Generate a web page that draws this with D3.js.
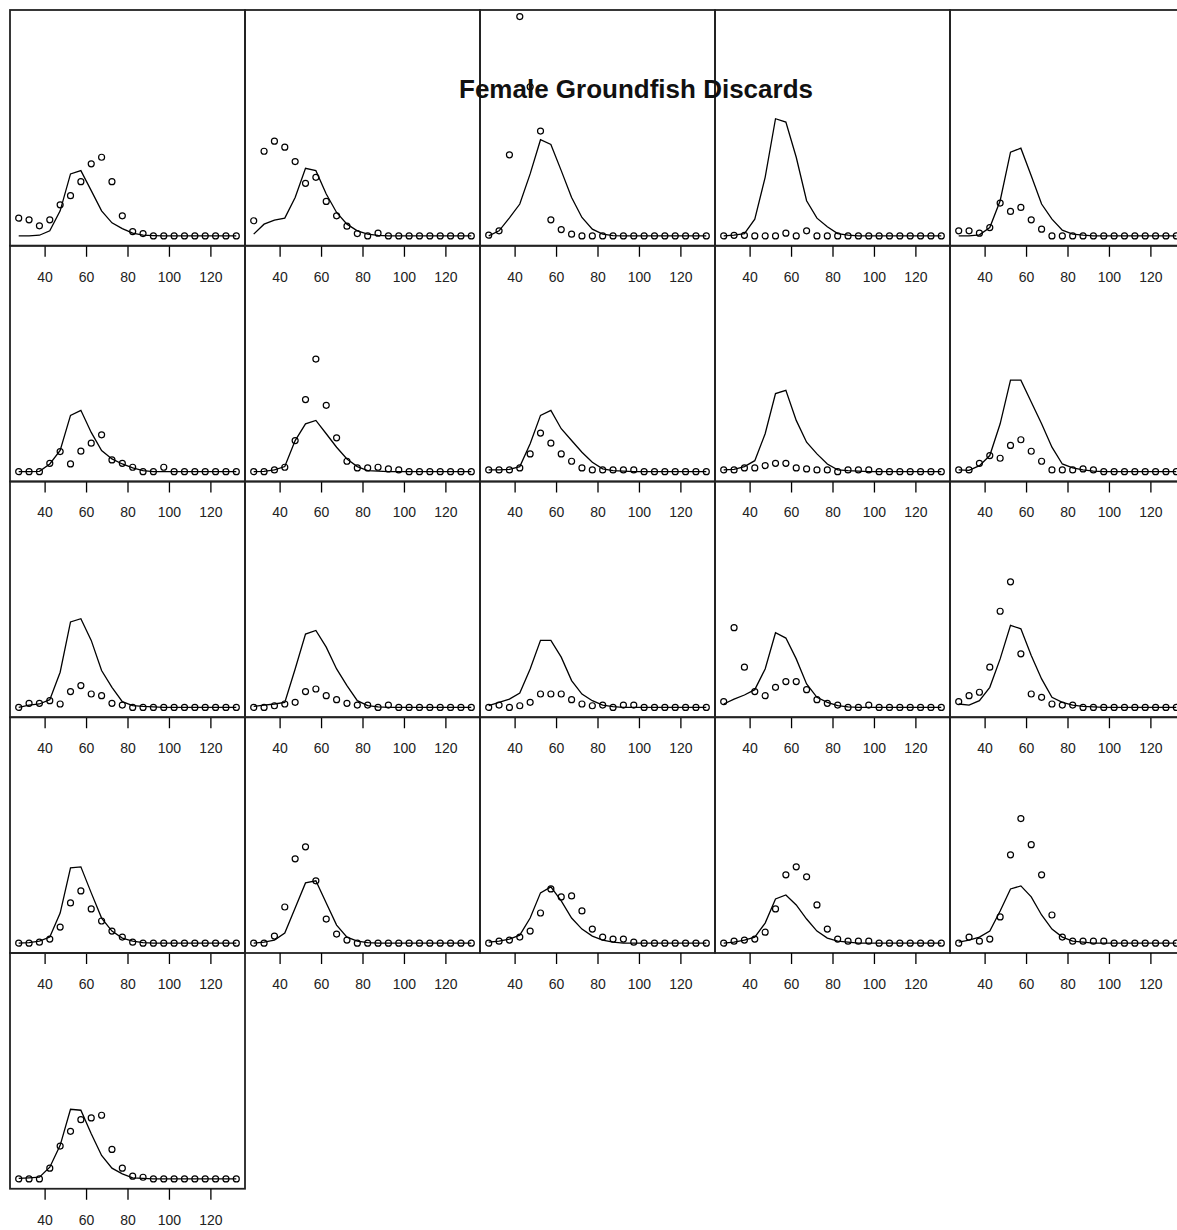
<!DOCTYPE html>
<html>
<head>
<meta charset="utf-8">
<script src="https://cdn.jsdelivr.net/npm/d3@7"></script>
<style>
  body { margin: 0; background: #fff; }
  svg { display: block; font-family: "Liberation Sans", Arial, sans-serif; }
</style>
</head>
<body>
<svg id="chart"></svg>
<script>
// chart data
const title = 'Female Groundfish Discards'

// length classes (x)
const lengths = [27.5, 32.5, 37.5, 42.5, 47.5, 52.5, 57.5, 62.5, 67.5, 72.5, 77.5,
                 82.5, 87.5, 92.5, 97.5, 102.5, 107.5, 112.5, 117.5, 122.5, 127.5, 132.5]

const xTicks = [40, 60, 80, 100, 120]

// observed proportions at length (circles), one array per panel
const observed = [
    [1.62, 1.47, 0.92, 1.47, 2.84, 3.67, 4.95, 6.58, 7.18, 4.95, 1.83, 0.39, 0.21, 0, 0, 0, 0, 0, 0, 0, 0, 0],
    [1.38, 7.73, 8.65, 8.10, 6.79, 4.80, 5.35, 3.15, 1.83, 0.89, 0.21, 0, 0.25, 0, 0, 0, 0, 0, 0, 0, 0, 0],
    [0.06, 0.46, 7.40, 20.03, 13.61, 9.57, 1.47, 0.58, 0.16, 0, 0, 0, 0, 0, 0, 0, 0, 0, 0, 0, 0, 0],
    [0, 0.05, 0.05, 0, 0, 0, 0.25, 0, 0.46, 0, 0, 0, 0, 0, 0, 0, 0, 0, 0, 0, 0, 0],
    [0.46, 0.46, 0.25, 0.76, 3.00, 2.23, 2.60, 1.47, 0.61, 0, 0, 0, 0, 0, 0, 0, 0, 0, 0, 0, 0, 0],
    [0, 0, 0, 0.76, 1.83, 0.70, 1.87, 2.60, 3.36, 1.07, 0.76, 0.40, 0, 0, 0.40, 0, 0, 0, 0, 0, 0, 0],
    [0, 0, 0.16, 0.40, 2.84, 6.58, 10.28, 6.06, 3.09, 0.95, 0.34, 0.34, 0.40, 0.25, 0.16, 0, 0, 0, 0, 0, 0, 0],
    [0.16, 0.16, 0.16, 0.34, 1.62, 3.52, 2.60, 1.62, 0.95, 0.34, 0.16, 0.16, 0.16, 0.16, 0.16, 0, 0, 0, 0, 0, 0, 0],
    [0.16, 0.16, 0.34, 0.34, 0.55, 0.76, 0.76, 0.34, 0.25, 0.16, 0.16, 0, 0.16, 0.16, 0.16, 0, 0, 0, 0, 0, 0, 0],
    [0.16, 0.16, 0.76, 1.47, 1.22, 2.39, 2.91, 1.86, 0.95, 0.16, 0.16, 0.16, 0.25, 0.16, 0, 0, 0, 0, 0, 0, 0, 0],
    [0, 0.37, 0.37, 0.61, 0.31, 1.44, 1.99, 1.22, 1.07, 0.37, 0.21, 0, 0, 0, 0, 0, 0, 0, 0, 0, 0, 0],
    [0, 0, 0.15, 0.31, 0.46, 1.44, 1.68, 1.07, 0.70, 0.37, 0.21, 0.21, 0, 0.21, 0, 0, 0, 0, 0, 0, 0, 0],
    [0, 0.21, 0, 0.15, 0.46, 1.22, 1.22, 1.22, 0.70, 0.31, 0.15, 0.21, 0, 0.21, 0.21, 0, 0, 0, 0, 0, 0, 0],
    [0.52, 7.28, 3.67, 1.44, 1.07, 1.83, 2.36, 2.36, 1.62, 0.70, 0.37, 0.21, 0, 0, 0.21, 0, 0, 0, 0, 0, 0, 0],
    [0.52, 1.07, 1.38, 3.67, 8.78, 11.47, 4.89, 1.22, 0.92, 0.31, 0.21, 0.21, 0, 0, 0, 0, 0, 0, 0, 0, 0, 0],
    [0, 0, 0.09, 0.37, 1.47, 3.67, 4.77, 3.12, 2.02, 1.10, 0.55, 0.09, 0, 0, 0, 0, 0, 0, 0, 0, 0, 0],
    [0, 0, 0.64, 3.30, 7.70, 8.80, 5.69, 2.20, 0.83, 0.28, 0, 0, 0, 0, 0, 0, 0, 0, 0, 0, 0, 0],
    [0, 0.18, 0.28, 0.55, 1.10, 2.75, 4.95, 4.22, 4.31, 2.94, 1.28, 0.55, 0.37, 0.37, 0.09, 0, 0, 0, 0, 0, 0, 0],
    [0, 0.18, 0.28, 0.37, 1.00, 3.12, 6.24, 6.97, 6.06, 3.49, 1.28, 0.37, 0.18, 0.18, 0.18, 0, 0, 0, 0, 0, 0, 0],
    [0, 0.55, 0.18, 0.37, 2.39, 8.07, 11.38, 8.99, 6.24, 2.57, 0.55, 0.18, 0.18, 0.18, 0.18, 0, 0, 0, 0, 0, 0, 0],
    [0, 0, 0, 0.98, 3.00, 4.34, 5.41, 5.57, 5.81, 2.69, 0.98, 0.25, 0.15, 0, 0, 0, 0, 0, 0, 0, 0, 0]
]

// model fit (line), one array per panel
const fitted = [
    [0, 0, 0.06, 0.46, 2.29, 5.66, 5.96, 4.13, 2.29, 1.19, 0.67, 0.25, 0.06, 0.02, 0, 0, 0, 0, 0, 0, 0, 0],
    [0.16, 1.07, 1.44, 1.62, 3.51, 6.17, 5.96, 3.83, 2.14, 1.07, 0.46, 0.16, 0.05, 0, 0, 0, 0, 0, 0, 0, 0, 0],
    [0, 0.46, 1.65, 2.91, 5.66, 8.78, 8.35, 5.96, 3.51, 1.68, 0.61, 0.16, 0.03, 0, 0, 0, 0, 0, 0, 0, 0, 0],
    [0, 0.06, 0.21, 1.53, 5.35, 10.70, 10.40, 7.18, 3.21, 1.62, 0.83, 0.21, 0.06, 0, 0, 0, 0, 0, 0, 0, 0, 0],
    [0, 0, 0.09, 0.76, 3.21, 7.64, 8.01, 5.50, 2.91, 1.53, 0.52, 0.16, 0.06, 0, 0, 0, 0, 0, 0, 0, 0, 0],
    [0, 0, 0.03, 0.70, 1.93, 5.14, 5.60, 3.58, 1.93, 1.16, 0.70, 0.34, 0.09, 0, 0, 0, 0, 0, 0, 0, 0, 0],
    [0, 0.03, 0.16, 0.46, 2.84, 4.37, 4.68, 3.46, 2.23, 1.16, 0.46, 0.09, 0.05, 0, 0, 0, 0, 0, 0, 0, 0, 0],
    [0.16, 0.16, 0.20, 0.46, 2.54, 5.14, 5.60, 3.92, 2.84, 1.77, 0.85, 0.25, 0.09, 0.05, 0, 0, 0, 0, 0, 0, 0, 0],
    [0.16, 0.20, 0.46, 1.00, 3.46, 7.13, 7.43, 4.68, 2.69, 1.62, 0.70, 0.16, 0.09, 0.05, 0, 0, 0, 0, 0, 0, 0, 0],
    [0.16, 0.12, 0.55, 1.47, 4.37, 8.35, 8.35, 6.36, 4.37, 2.23, 0.70, 0.34, 0.16, 0.05, 0, 0, 0, 0, 0, 0, 0, 0],
    [0, 0.21, 0.31, 0.70, 3.21, 7.80, 8.10, 6.12, 3.37, 1.83, 0.52, 0.16, 0.09, 0.05, 0, 0, 0, 0, 0, 0, 0, 0],
    [0.09, 0.21, 0.31, 0.46, 3.51, 6.70, 7.03, 5.50, 3.51, 1.99, 0.61, 0.16, 0.05, 0, 0, 0, 0, 0, 0, 0, 0, 0],
    [0.15, 0.46, 0.76, 1.31, 3.51, 6.12, 6.12, 4.59, 2.45, 1.22, 0.61, 0.21, 0.06, 0, 0, 0, 0, 0, 0, 0, 0, 0],
    [0.31, 0.76, 1.13, 1.62, 3.51, 6.82, 6.33, 4.43, 2.14, 0.92, 0.46, 0.16, 0.05, 0, 0, 0, 0, 0, 0, 0, 0, 0],
    [0.31, 0.21, 0.61, 1.83, 4.43, 7.49, 7.18, 4.74, 2.60, 0.92, 0.46, 0.21, 0.09, 0.05, 0, 0, 0, 0, 0, 0, 0, 0],
    [0, 0.05, 0.18, 0.55, 2.75, 6.88, 6.97, 4.59, 2.29, 1.10, 0.46, 0.18, 0.05, 0, 0, 0, 0, 0, 0, 0, 0, 0],
    [0, 0.09, 0.28, 0.92, 3.21, 5.50, 5.69, 3.67, 1.65, 0.55, 0.18, 0.05, 0, 0, 0, 0, 0, 0, 0, 0, 0, 0],
    [0.09, 0.18, 0.37, 0.73, 2.29, 4.59, 5.14, 3.85, 2.29, 1.28, 0.64, 0.28, 0.09, 0, 0, 0, 0, 0, 0, 0, 0, 0],
    [0, 0.09, 0.28, 0.55, 1.83, 4.04, 4.40, 3.49, 2.20, 1.10, 0.46, 0.18, 0.09, 0, 0, 0, 0, 0, 0, 0, 0, 0],
    [0.09, 0.28, 0.55, 1.10, 2.94, 4.95, 5.23, 4.22, 2.57, 1.28, 0.55, 0.18, 0.09, 0, 0, 0, 0, 0, 0, 0, 0, 0],
    [0.05, 0.09, 0.15, 1.07, 3.06, 6.36, 6.27, 4.13, 2.14, 0.98, 0.46, 0.09, 0.05, 0, 0, 0, 0, 0, 0, 0, 0, 0]
]

const width = 1177
const height = 1230
const margin = { top: 10, left: 10 }
const panelW = 235
const panelH = 235.75
const nCols = 5

const svg = d3.select('#chart')
    .attr('width', width)
    .attr('height', height)

svg.append('rect')
    .attr('width', width)
    .attr('height', height)
    .attr('fill', '#fff')

// lattice style: data range padded by ~4% on each side
const xExt = d3.extent(lengths)
const xPad = (xExt[1] - xExt[0]) * 0.04
const x = d3.scaleLinear()
    .domain([xExt[0] - xPad, xExt[1] + xPad])
    .range([0, panelW])

const yMax = d3.max(observed.concat(fitted), (d) => d3.max(d))
const y = d3.scaleLinear()
    .domain([-0.045 * yMax, 1.03 * yMax])
    .range([panelH, 0])

const line = d3.line()
    .x((d, i) => x(lengths[i]))
    .y((d) => y(d))

observed.forEach((obs, p) => {
    const col = p % nCols
    const row = Math.floor(p / nCols)
    const g = svg.append('g')
        .attr('transform', `translate(${margin.left + col * panelW},${margin.top + row * panelH})`)

    g.append('path')
        .datum(fitted[p])
        .attr('d', line)
        .attr('fill', 'none')
        .attr('stroke', '#000')
        .attr('stroke-width', 1.3)

    g.selectAll('circle')
        .data(obs)
        .join('circle')
        .attr('cx', (d, i) => x(lengths[i]))
        .attr('cy', (d) => y(d))
        .attr('r', 3)
        .attr('fill', 'none')
        .attr('stroke', '#000')
        .attr('stroke-width', 1.2)

    g.append('rect')
        .attr('width', panelW)
        .attr('height', panelH)
        .attr('fill', 'none')
        .attr('stroke', '#222')
        .attr('stroke-width', 1.8)

    const axis = g.append('g')
        .attr('transform', `translate(0,${panelH})`)
        .call(d3.axisBottom(x).tickValues(xTicks).tickSize(11).tickPadding(15))
    axis.select('.domain').remove()
    axis.selectAll('.tick line').attr('stroke', '#000').attr('stroke-width', 1.3)
    axis.selectAll('.tick text')
        .attr('fill', '#222')
        .style('font-size', '14px')
        .style('font-family', '"Liberation Sans", Arial, sans-serif')
})

svg.append('text')
    .attr('x', 636)
    .attr('y', 98)
    .attr('text-anchor', 'middle')
    .attr('font-weight', 'bold')
    .attr('font-size', 26)
    .attr('fill', '#111')
    .text(title)
</script>
</body>
</html>
